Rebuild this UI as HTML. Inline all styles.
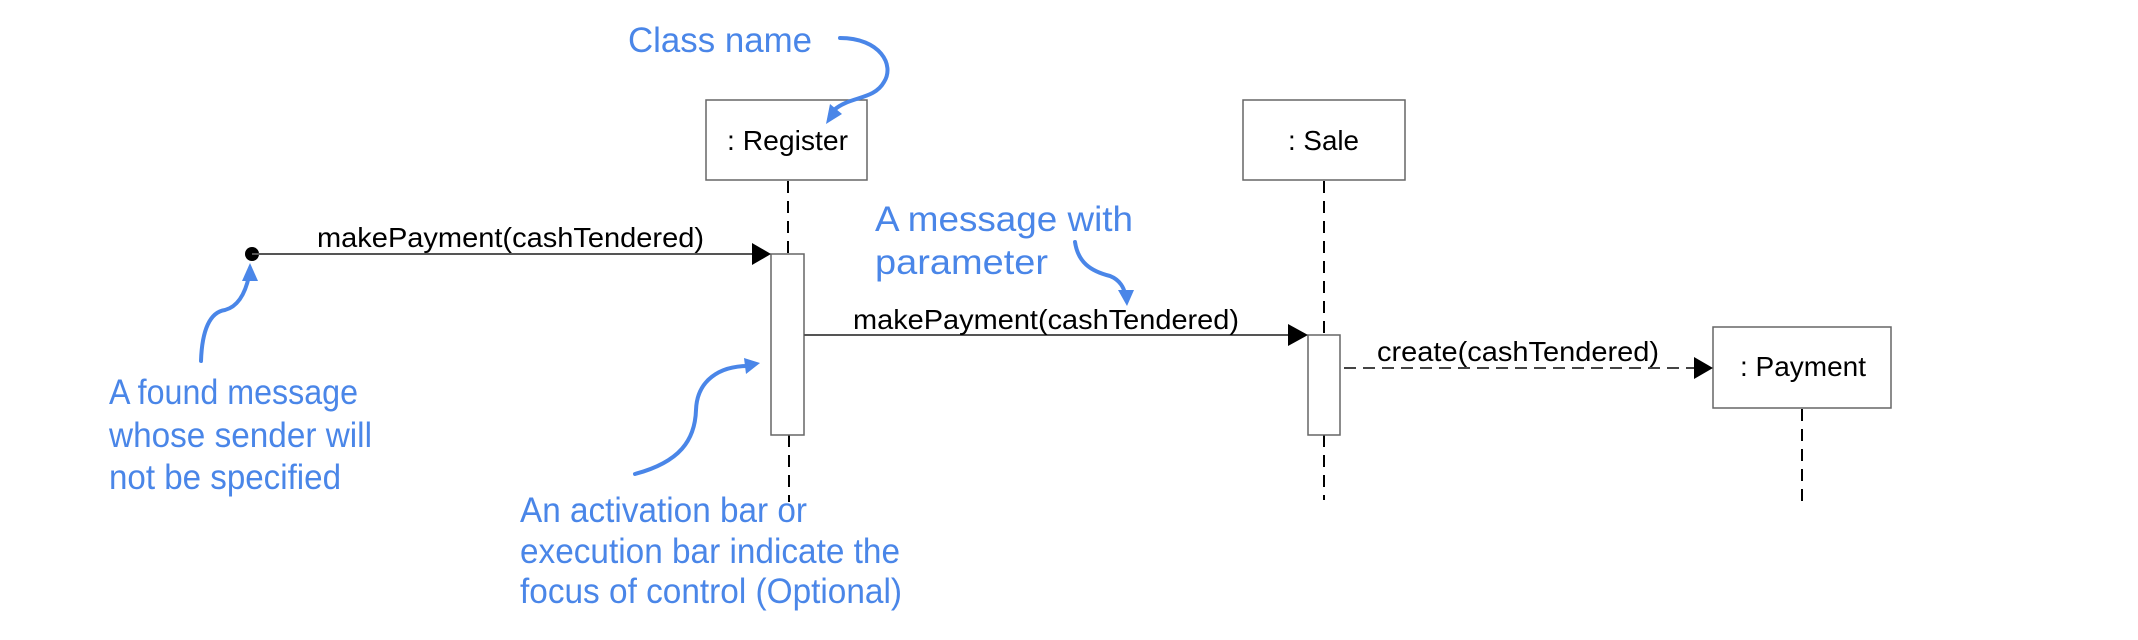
<!DOCTYPE html>
<html><head><meta charset="utf-8"><style>html,body{margin:0;padding:0;background:#fff;}svg{display:block}</style></head>
<body>
<svg width="2138" height="640" viewBox="0 0 2138 640" xmlns="http://www.w3.org/2000/svg">
<g font-family="Liberation Sans, Arial, sans-serif" fill="#000">
<rect x="706" y="100" width="161" height="80" fill="#fff" stroke="#666" stroke-width="1.5"/>
<text x="727" y="150" font-size="28" textLength="121" lengthAdjust="spacingAndGlyphs">: Register</text>
<rect x="1243" y="100" width="162" height="80" fill="#fff" stroke="#666" stroke-width="1.5"/>
<text x="1288" y="150" font-size="28" textLength="71" lengthAdjust="spacingAndGlyphs">: Sale</text>
<rect x="1713" y="327" width="178" height="81" fill="#fff" stroke="#666" stroke-width="1.5"/>
<text x="1740" y="376" font-size="28" textLength="126" lengthAdjust="spacingAndGlyphs">: Payment</text>
<g stroke="#000" stroke-width="2" stroke-dasharray="12,8">
<line x1="788" y1="181" x2="788" y2="254"/>
<line x1="789" y1="435" x2="789" y2="502"/>
<line x1="1324" y1="181" x2="1324" y2="335"/>
<line x1="1324" y1="435" x2="1324" y2="500"/>
<line x1="1802" y1="409" x2="1802" y2="506"/>
</g>
<rect x="771" y="254" width="33" height="181" fill="#fff" stroke="#666" stroke-width="1.5"/>
<rect x="1308" y="335" width="32" height="100" fill="#fff" stroke="#666" stroke-width="1.5"/>
<circle cx="252" cy="254" r="7" fill="#000"/>
<line x1="252" y1="254" x2="756" y2="254" stroke="#555" stroke-width="2"/>
<polygon points="752,243 771,254 752,265" fill="#000"/>
<text x="317" y="247" font-size="28" textLength="387" lengthAdjust="spacingAndGlyphs">makePayment(cashTendered)</text>
<line x1="804" y1="335" x2="1292" y2="335" stroke="#555" stroke-width="2"/>
<polygon points="1288,324 1308,335 1288,346" fill="#000"/>
<text x="853" y="329" font-size="28" textLength="386" lengthAdjust="spacingAndGlyphs">makePayment(cashTendered)</text>
<line x1="1344" y1="368" x2="1696" y2="368" stroke="#444" stroke-width="2" stroke-dasharray="12,7"/>
<polygon points="1694,357 1713,368 1694,379" fill="#000"/>
<text x="1377" y="361" font-size="28" textLength="282" lengthAdjust="spacingAndGlyphs">create(cashTendered)</text>
</g>
<g font-family="Liberation Sans, Arial, sans-serif" fill="#4a86e8" font-size="35">
<text x="628" y="52" textLength="184" lengthAdjust="spacingAndGlyphs">Class name</text>
<text x="875" y="231" textLength="258" lengthAdjust="spacingAndGlyphs">A message with</text>
<text x="875" y="274" textLength="173" lengthAdjust="spacingAndGlyphs">parameter</text>
<text x="109" y="404" textLength="249" lengthAdjust="spacingAndGlyphs">A found message</text>
<text x="109" y="447" textLength="263" lengthAdjust="spacingAndGlyphs">whose sender will</text>
<text x="109" y="489" textLength="232" lengthAdjust="spacingAndGlyphs">not be specified</text>
<text x="520" y="522" textLength="287" lengthAdjust="spacingAndGlyphs">An activation bar or</text>
<text x="520" y="563" textLength="380" lengthAdjust="spacingAndGlyphs">execution bar indicate the</text>
<text x="520" y="603" textLength="382" lengthAdjust="spacingAndGlyphs">focus of control (Optional)</text>
</g>
<g stroke="#4a86e8" stroke-width="4" fill="none" stroke-linecap="round">
<path d="M840,38 C880,38 895,65 884,82 C874,100 850,96 834,110"/>
<path d="M201,361 C202,330 210,312 225,310 C240,306 246,290 249,276"/>
<path d="M635,474 C680,462 695,440 696,410 C697,380 720,366 748,366"/>
<path d="M1075,242 C1078,262 1090,271 1110,276 C1120,280 1124,288 1125,294"/>
</g>
<g fill="#4a86e8">
<polygon points="826,124 830,104 842,114"/>
<polygon points="250,263 242,281 258,281"/>
<polygon points="760,363 744,358 746,374"/>
<polygon points="1127,306 1118,290 1134,290"/>
</g>
</svg>
</body></html>
